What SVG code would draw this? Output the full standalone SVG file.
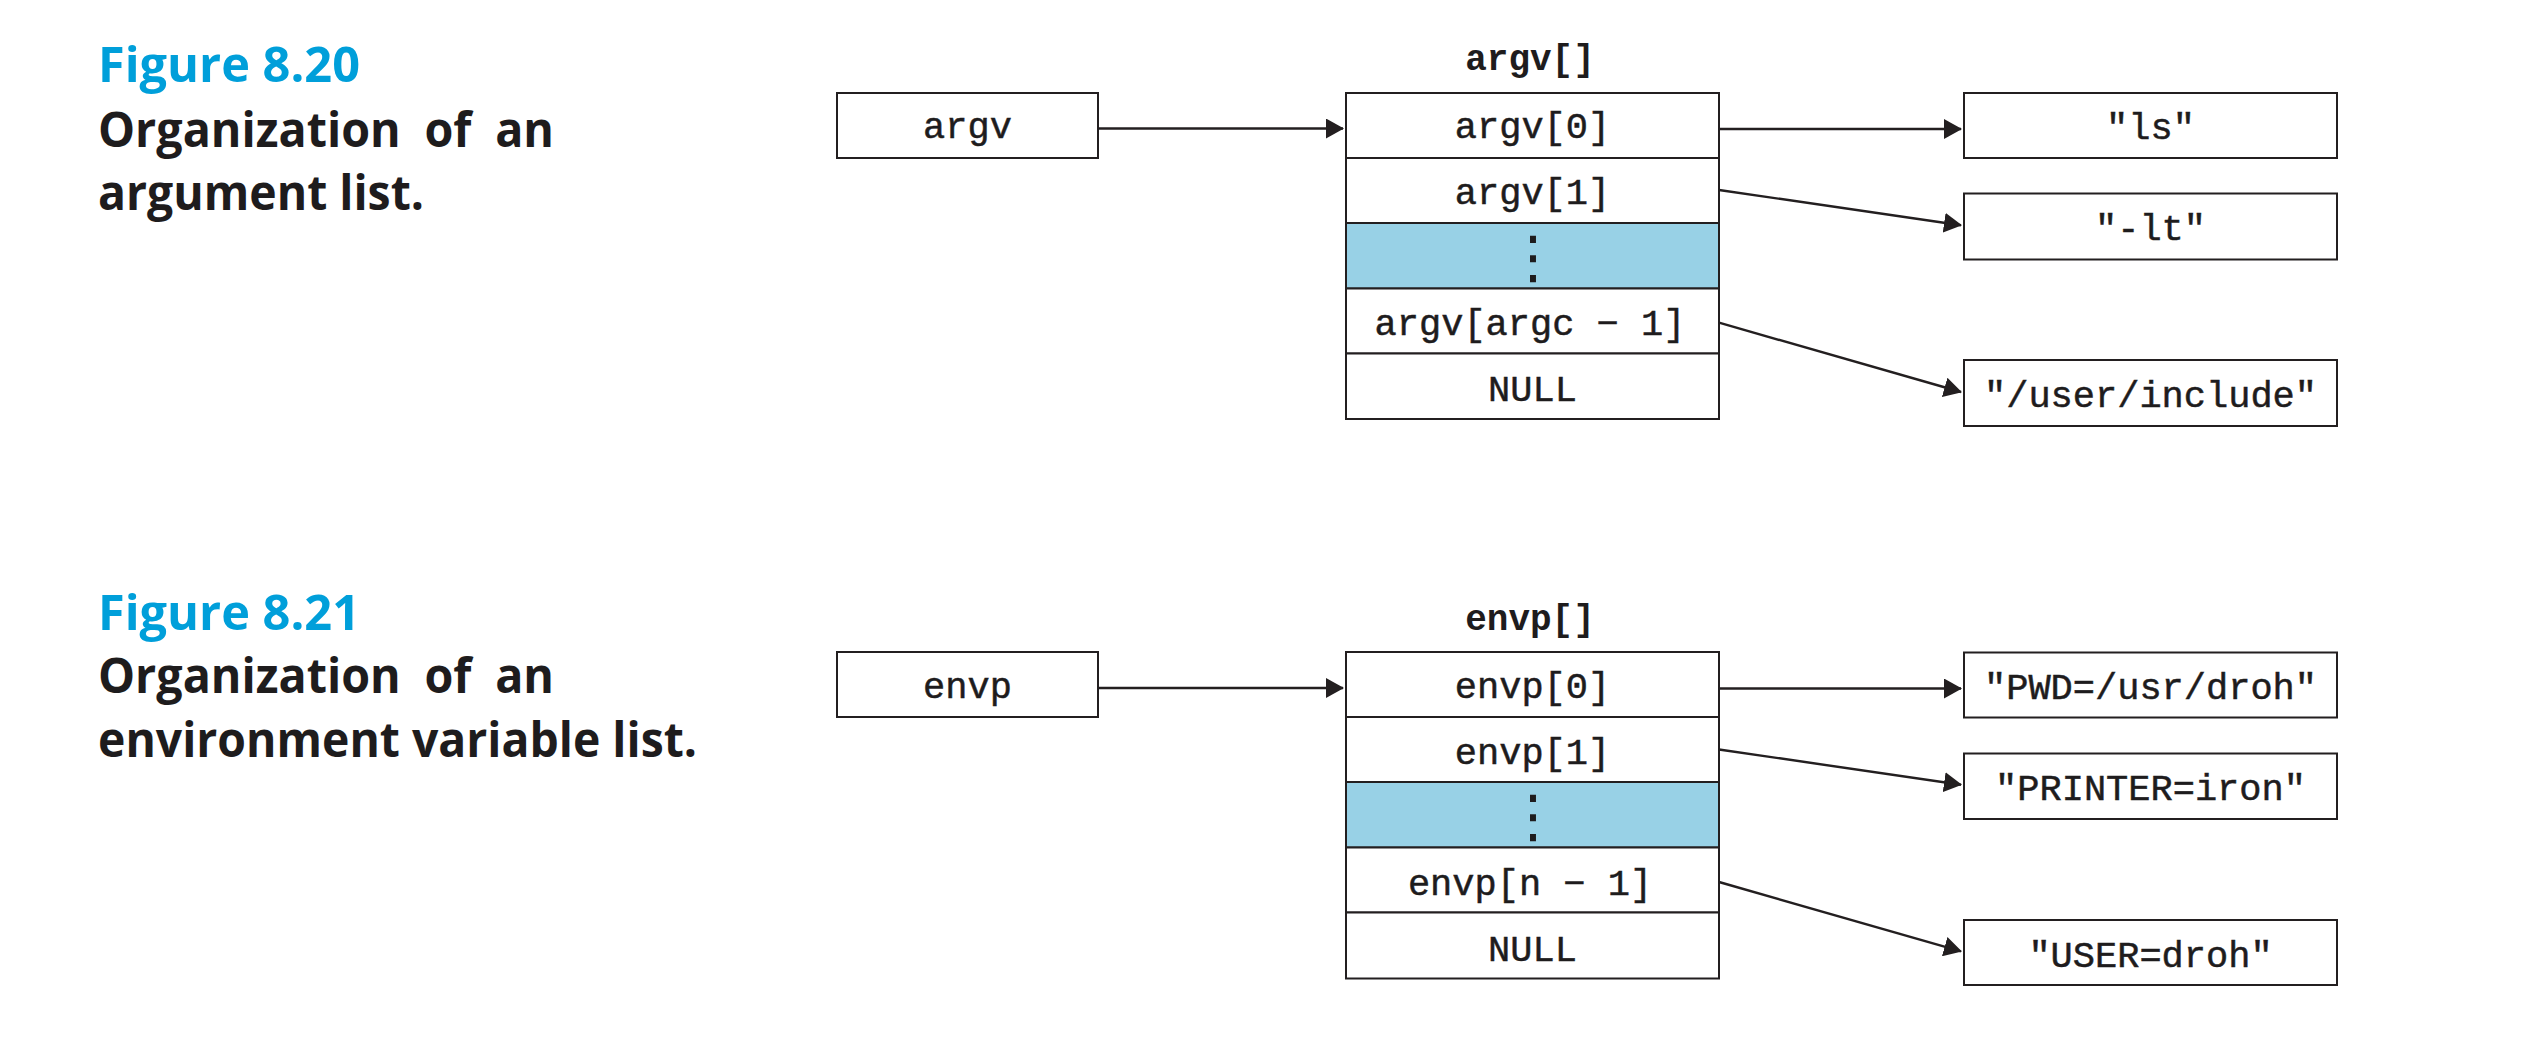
<svg xmlns="http://www.w3.org/2000/svg" width="2524" height="1052" viewBox="0 0 2524 1052">
<style>
.cap{font-family:"Open Sans","Noto Sans",sans-serif;font-weight:700;font-size:48px}
.fig{fill:#009fda}
.desc{fill:#1e1c1d}
.wide{word-spacing:12px}
.box{fill:#ffffff;stroke:#231f20;stroke-width:2}
.blue{fill:#98d1e6;stroke:#231f20;stroke-width:2}
.tt{font-family:"Liberation Mono","DejaVu Sans Mono",monospace;font-size:37px;fill:#1e1c1d;stroke:#1e1c1d;stroke-width:0.5;text-anchor:middle}
.ttb{font-family:"Liberation Mono","DejaVu Sans Mono",monospace;font-size:36px;font-weight:700;fill:#1e1c1d;text-anchor:middle}
.dots{font-family:"DejaVu Sans",sans-serif;font-size:58px;fill:#1e1c1d;text-anchor:middle}
.conn{stroke:#231f20;stroke-width:2.4;fill:none;marker-end:url(#ah)}
</style>
<defs>
<marker id="ah" viewBox="0 0 18 20" refX="17" refY="10" markerWidth="18" markerHeight="20" markerUnits="userSpaceOnUse" orient="auto">
<path d="M0,0 L18,10 L0,20 Z" fill="#231f20"/>
</marker>
</defs>

<g id="caption-8-20">
<text class="cap fig" x="98" y="82" textLength="262" lengthAdjust="spacingAndGlyphs">Figure 8.20</text>
<text class="cap desc wide" x="98" y="147" textLength="456" lengthAdjust="spacingAndGlyphs">Organization of an</text>
<text class="cap desc" x="98" y="210" textLength="326" lengthAdjust="spacingAndGlyphs">argument list.</text>
</g>
<g id="caption-8-21">
<text class="cap fig" x="98" y="630" textLength="262" lengthAdjust="spacingAndGlyphs">Figure 8.21</text>
<text class="cap desc wide" x="98" y="693" textLength="456" lengthAdjust="spacingAndGlyphs">Organization of an</text>
<text class="cap desc" x="98" y="757" textLength="599" lengthAdjust="spacingAndGlyphs">environment variable list.</text>
</g>

<g id="argv">
<rect class="box" x="837" y="93" width="261" height="65"/>
<text class="tt" x="967.5" y="138">argv</text>
</g>
<g id="argv-array">
<text class="ttb" x="1530" y="70">argv[]</text>
<rect class="box" x="1346" y="93" width="373" height="65"/>
<text class="tt" x="1532.5" y="138">argv[0]</text>
<rect class="box" x="1346" y="158" width="373" height="65"/>
<text class="tt" x="1532.5" y="203.5">argv[1]</text>
<rect class="blue" x="1346" y="223" width="373" height="65.5"/>
<text class="dots" x="1533" y="277">⋮</text>
<rect class="box" x="1346" y="288.5" width="373" height="65"/>
<text class="tt" x="1530" y="335">argv[argc − 1]</text>
<rect class="box" x="1346" y="353.5" width="373" height="65.5"/>
<text class="tt" x="1532.5" y="401">NULL</text>
</g>
<g id="str-ls">
<rect class="box" x="1964" y="93" width="373" height="65"/>
<text class="tt" x="2150.5" y="139">"ls"</text>
</g>
<g id="str-lt">
<rect class="box" x="1964" y="193.5" width="373" height="66"/>
<text class="tt" x="2150.5" y="240">"-lt"</text>
</g>
<g id="str-include">
<rect class="box" x="1964" y="360" width="373" height="66"/>
<text class="tt" x="2150.5" y="406.5">"/user/include"</text>
</g>

<g id="envp">
<rect class="box" x="837" y="652" width="261" height="65"/>
<text class="tt" x="967.5" y="698">envp</text>
</g>
<g id="envp-array">
<text class="ttb" x="1530" y="630">envp[]</text>
<rect class="box" x="1346" y="652" width="373" height="65"/>
<text class="tt" x="1532.5" y="698">envp[0]</text>
<rect class="box" x="1346" y="717" width="373" height="65"/>
<text class="tt" x="1532.5" y="763.5">envp[1]</text>
<rect class="blue" x="1346" y="782" width="373" height="65.5"/>
<text class="dots" x="1533" y="836">⋮</text>
<rect class="box" x="1346" y="847.5" width="373" height="65"/>
<text class="tt" x="1530" y="895">envp[n − 1]</text>
<rect class="box" x="1346" y="912.5" width="373" height="66"/>
<text class="tt" x="1532.5" y="961">NULL</text>
</g>
<g id="str-pwd">
<rect class="box" x="1964" y="652.5" width="373" height="65"/>
<text class="tt" x="2150.5" y="699">"PWD=/usr/droh"</text>
</g>
<g id="str-printer">
<rect class="box" x="1964" y="753.5" width="373" height="65.5"/>
<text class="tt" x="2150.5" y="800">"PRINTER=iron"</text>
</g>
<g id="str-user">
<rect class="box" x="1964" y="920" width="373" height="65"/>
<text class="tt" x="2150.5" y="966.5">"USER=droh"</text>
</g>

<g id="connectors">
<line class="conn" x1="1098" y1="128.5" x2="1343" y2="128.5"/>
<line class="conn" x1="1719" y1="129" x2="1961" y2="129"/>
<line class="conn" x1="1719" y1="190" x2="1961" y2="225.2"/>
<line class="conn" x1="1719" y1="322.7" x2="1961" y2="392"/>
<line class="conn" x1="1098" y1="688" x2="1343" y2="688"/>
<line class="conn" x1="1719" y1="688.5" x2="1961" y2="688.5"/>
<line class="conn" x1="1719" y1="749.5" x2="1961" y2="784.7"/>
<line class="conn" x1="1719" y1="882" x2="1961" y2="951.3"/>
</g>
</svg>
